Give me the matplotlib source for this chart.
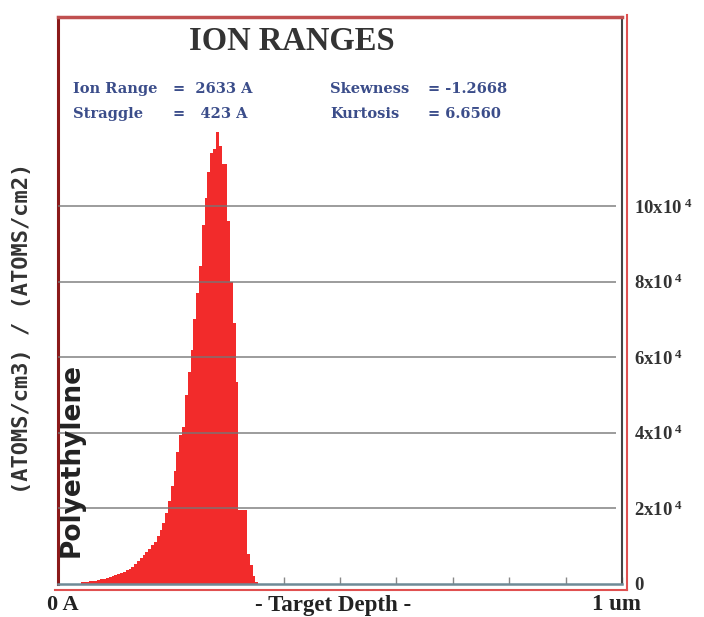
import numpy as np
import matplotlib
matplotlib.use("Agg")
from matplotlib import pyplot as plt
from matplotlib.lines import Line2D

plt.rcParams["mathtext.fontset"] = "custom"
plt.rcParams["mathtext.rm"] = "Liberation Serif:bold"
plt.rcParams["mathtext.it"] = "Liberation Serif:bold"
plt.rcParams["mathtext.bf"] = "Liberation Serif:bold"

# histogram bins (Angstrom) and heights (x10^4 (atoms/cm3)/(atoms/cm2))
bin_start = 400
bin_width = 50
heights = [
    0.04, 0.05, 0.06, 0.07, 0.08, 0.09, 0.11, 0.12, 0.14, 0.16,
    0.18, 0.20, 0.23, 0.26, 0.29, 0.32, 0.36, 0.40, 0.45, 0.52,
    0.60, 0.69, 0.76, 0.84, 0.93, 1.02, 1.12, 1.26, 1.42, 1.62,
    1.88, 2.20, 2.60, 3.00, 3.50, 3.95, 4.15, 5.00, 5.60, 6.20,
    7.00, 7.70, 8.40, 9.50, 10.2, 10.9, 11.4, 11.5, 11.95, 11.6,
    11.1, 11.1, 9.60, 8.00, 6.90, 5.35, 1.96, 1.96, 1.96, 0.80,
    0.50, 0.20, 0.05,
]
grid_levels = [2, 4, 6, 8, 10]
right_labels = ["0", "2x10$^{\\;4}$", "4x10$^{\\;4}$", "6x10$^{\\;4}$", "8x10$^{\\;4}$", "10x10$^{\\;4}$"]
depth_ticks = np.arange(0, 10001, 1000)

stats_left = [("Ion Range", "=  2633 A"), ("Straggle", "=   423 A")]
stats_right = [("Skewness", "= -1.2668"), ("Kurtosis", "= 6.6560")]

W, H = 704, 617
fig = plt.figure(figsize=(W / 100, H / 100), dpi=100)
ax = fig.add_axes([58 / W, (H - 584) / H, 564 / W, 567 / H])

edges = bin_start + bin_width * np.arange(len(heights) + 1)
ax.stairs(np.array(heights) * 1e4, edges, fill=True, color="#f22b2b", zorder=2)

ax.hlines([g * 1e4 for g in grid_levels], 0, 9900, color="#777777", lw=1.2, alpha=0.85, zorder=3)

ax.set_xlim(0, 10000)
ax.set_ylim(0, 15e4)

ax.set_xticks(depth_ticks)
ax.set_xticklabels([])
ax.tick_params(axis="x", direction="in", length=5, color="#888888", width=1)

ax.yaxis.tick_right()
ax.set_yticks([0] + [g * 1e4 for g in grid_levels])
ax.set_yticklabels(right_labels, fontfamily="Liberation Serif", fontweight="bold",
                   fontsize=13.5, color="#333333")
ax.tick_params(axis="y", length=0, pad=9)

ax.spines["left"].set_color("#8b1a1a")
ax.spines["left"].set_linewidth(2.2)
ax.spines["top"].set_color("#c05050")
ax.spines["top"].set_linewidth(2.5)
ax.spines["right"].set_color("#444444")
ax.spines["right"].set_linewidth(1.5)
ax.spines["bottom"].set_color("#6f8a96")
ax.spines["bottom"].set_linewidth(1.8)

# outer red frame lines (right and bottom)
fig.add_artist(Line2D([627 / W, 627 / W], [(H - 590) / H, (H - 15) / H], color="#e05050", lw=1.5))
fig.add_artist(Line2D([55 / W, 627 / W], [(H - 590) / H, (H - 590) / H], color="#e05050", lw=1.5))

fig.text(292 / W, 1 - 42 / H, "ION RANGES", fontfamily="Liberation Serif", fontweight="bold",
         fontsize=23.5, color="#333333", ha="center", va="center")

blue = "#3b4d8a"
for i, (name, val) in enumerate(stats_left):
    y = 1 - (89 + 25 * i) / H
    fig.text(73 / W, y, name, fontfamily="DejaVu Serif", fontweight="bold", fontsize=10.5,
             color=blue, va="center")
    fig.text(173 / W, y, val, fontfamily="DejaVu Serif", fontweight="bold", fontsize=10.5,
             color=blue, va="center")
for i, (name, val) in enumerate(stats_right):
    y = 1 - (89 + 25 * i) / H
    fig.text(330 / W, y, name, fontfamily="DejaVu Serif", fontweight="bold", fontsize=10.5,
             color=blue, va="center")
    fig.text(428 / W, y, val, fontfamily="DejaVu Serif", fontweight="bold", fontsize=10.5,
             color=blue, va="center")

fig.text(22 / W, 1 - 328 / H, "(ATOMS/cm3) / (ATOMS/cm2)", rotation=90, fontfamily="DejaVu Sans Mono",
         fontweight="bold", fontsize=15.8, color="#333333", ha="center", va="center")
fig.text(72 / W, 1 - 460 / H, "Polyethylene", rotation=90, fontfamily="DejaVu Sans",
         fontweight="bold", fontsize=19, color="#222222", ha="center", va="center")

bottom_y = 1 - 605 / H
fig.text(47 / W, bottom_y, "0 A", fontfamily="Liberation Serif", fontweight="bold", fontsize=16,
         color="#222222", va="center")
fig.text(333 / W, bottom_y, "- Target Depth -", fontfamily="Liberation Serif", fontweight="bold",
         fontsize=16.5, color="#222222", ha="center", va="center")
fig.text(641 / W, bottom_y, "1 um", fontfamily="Liberation Serif", fontweight="bold", fontsize=16.5,
         color="#222222", ha="right", va="center")

fig.savefig("out.png", dpi=100, facecolor="white")
